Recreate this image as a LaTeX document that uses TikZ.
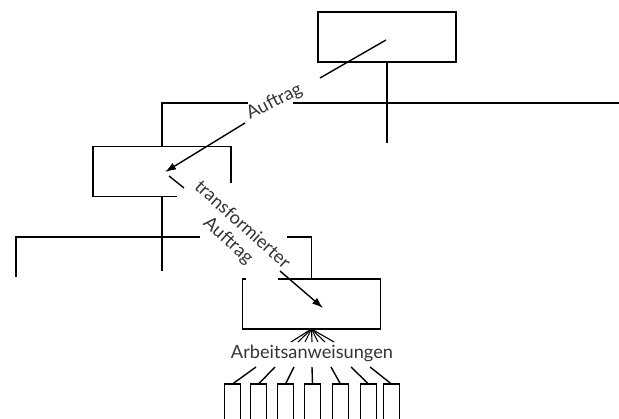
\documentclass[tikz,border=0pt]{standalone}
\usepackage{fontspec}
\setmainfont{Lato}
\usetikzlibrary{arrows.meta,calc}
\begin{document}
\begin{tikzpicture}[x=1pt,y=-1pt,
  line/.style={line width=1.4pt, black},
  arr/.style={line, -{Latex[length=11pt,width=7.5pt]}},
  boxnode/.style={minimum width=138pt, minimum height=50pt, inner sep=0pt, outer sep=0pt},
  lbl/.style={font=\fontsize{18.2}{21}\selectfont, text=black!80, inner sep=0pt},
  slot/.style={minimum width=16pt, minimum height=40pt, inner sep=0pt, outer sep=0pt, anchor=north}
]
\useasboundingbox (0,0) rectangle (619,419);

% the three levels of the hierarchy
\node[boxnode, draw, line] (b1) at (387,37) {};
\node[boxnode] (b2) at (162,171.5) {};
\node[boxnode] (b3) at (311.5,304) {};

% open outlines where the lettering crosses them
\draw[line] ($(b2.south west)+(84,0)$) -- (b2.south west) -- (b2.north west)
  -- (b2.north east) -- ($(b2.north east)+(0,37)$);
\draw[line] ($(b3.north west)+(35,0)$) -- (b3.north east) -- (b3.south east)
  -- (b3.south west) -- (b3.north west) -- ($(b3.north west)+(3,0)$);

% upper tree
\coordinate (h1a) at (248,103);
\coordinate (h1b) at (293,103);
\coordinate (h1c) at (620,103);
\draw[line] (b1.south) -- ++(0,81);
\draw[line] (b2.north) |- (h1a);
\draw[line] (h1b) -- (h1c);

% lower tree
\coordinate (l2) at (16,277);
\coordinate (h2a) at (200,237);
\coordinate (h2b) at (287,237);
\draw[line] (b2.south) -- ++(0,75);
\draw[line] (l2) |- (h2a);
\draw[line] (h2b) -| (b3.north);

% order passed down
\coordinate (a1s) at (386,40);
\coordinate (a1g) at (320,78);
\coordinate (a1h) at (245,123);
\coordinate (a1e) at (165,172);
\draw[line] (a1s) -- (a1g);
\draw[arr] (a1h) -- (a1e);
\node[lbl, rotate=27, anchor=base west] (t1) at (250,120) {Auftrag};

% transformed order
\coordinate (a2s) at (169,176);
\coordinate (a2g) at (184,188);
\coordinate (a2h) at (280,271);
\coordinate (a2e) at (323,308);
\draw[line] (a2s) -- (a2g);
\draw[arr] (a2h) -- (a2e);
\node[lbl, rotate=-42, align=center] (t2) at (235,233) {transformierter\\Auftrag};

% work instructions
\node[lbl, anchor=base] (aw) at (312,359) {Arbeitsanweisungen};
\foreach \dx in {-21,-14,-7,0,6,13,22}
  \draw[line, line width=1.1pt] (b3.south) -- ($(aw.base)+(\dx,-17)$);

\foreach \i/\cx/\sx in {1/232.5/256, 2/258.5/275, 3/285.5/294, 4/312.5/312,
                        5/340.5/331, 6/368.5/351, 7/391.5/370} {
  \node[slot] (w\i) at (\cx,384) {};
  \draw[line] (w\i.south west) |- (w\i.north east) -- (w\i.south east);
  \draw[line] ($(aw.base)+(\sx-312,8)$) -- (w\i.north);
}
\end{tikzpicture}
\end{document}
